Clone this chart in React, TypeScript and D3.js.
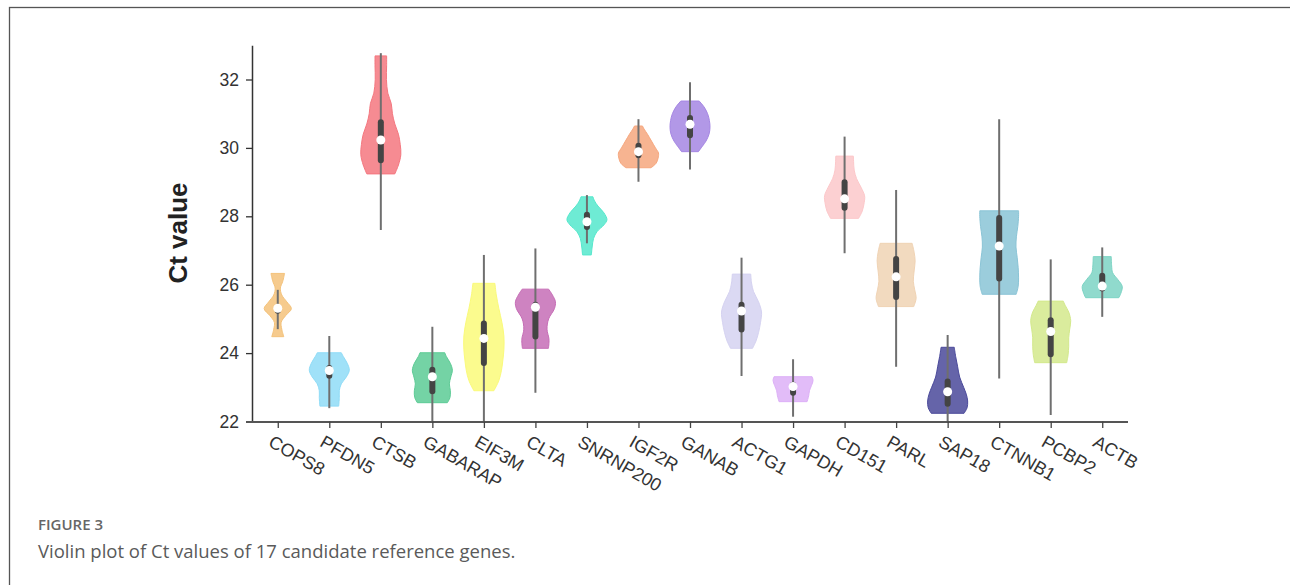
import React, { useEffect, useRef } from 'react';
import * as d3 from 'd3';

const genes = ['COPS8', 'PFDN5', 'CTSB', 'GABARAP', 'EIF3M', 'CLTA', 'SNRNP200', 'IGF2R', 'GANAB',
  'ACTG1', 'GAPDH', 'CD151', 'PARL', 'SAP18', 'CTNNB1', 'PCBP2', 'ACTB'];

const colors = ['#f4c27a', '#8fdcf7', '#f4777f', '#5ccb95', '#fafa7a', '#c66db6', '#55e8cc', '#f6a77e',
  '#a586e3', '#d5d2f1', '#ddb0f7', '#fcc8ca', '#f0d3b4', '#4a499a', '#8ac4d6', '#d3e98c', '#7cd4c4'];

// whisker ends, quartiles, medians
const whiskerLow = [24.7, 22.39, 27.6, 22.0, 22.0, 22.84, 27.21, 29.01, 29.37, 23.33, 22.14, 26.92, 23.6, 22.0, 23.26, 22.19, 25.06];
const whiskerHigh = [25.85, 24.5, 32.77, 24.77, 26.87, 27.06, 28.62, 30.84, 31.92, 26.79, 23.82, 30.33, 28.77, 24.53, 30.84, 26.74, 27.09];
const q1 = [25.15, 23.25, 29.55, 22.8, 23.62, 24.4, 27.6, 29.7, 30.28, 24.6, 22.75, 28.16, 25.55, 22.43, 26.09, 23.88, 25.8];
const q3 = [25.4, 23.65, 30.84, 23.6, 24.95, 25.5, 28.13, 30.15, 30.96, 25.5, 23.16, 29.08, 26.84, 23.26, 28.04, 25.05, 26.35];
const medians = [25.31, 23.49, 30.23, 23.31, 24.43, 25.34, 27.84, 29.89, 30.69, 25.23, 23.02, 28.51, 26.23, 22.87, 27.13, 24.63, 25.96];

// violin outlines: [Ct, relative density] from bottom to top of each violin
const profiles: number[][][] = [
  [[24.48, 0.3], [24.7, 0.2], [24.9, 0.17], [25.1, 0.4], [25.3, 0.68], [25.5, 0.45], [25.7, 0.2], [25.9, 0.13], [26.1, 0.25], [26.33, 0.34]],
  [[22.45, 0.47], [22.7, 0.5], [22.9, 0.5], [23.1, 0.6], [23.3, 0.85], [23.5, 1.0], [23.7, 0.9], [23.9, 0.7], [24.01, 0.6]],
  [[29.24, 0.7], [29.5, 0.88], [29.8, 1.0], [30.1, 0.97], [30.4, 0.88], [30.7, 0.7], [31.0, 0.58], [31.3, 0.52], [31.6, 0.35], [32.0, 0.28], [32.4, 0.29], [32.69, 0.29]],
  [[22.55, 0.75], [22.7, 0.88], [22.9, 0.9], [23.1, 0.85], [23.3, 0.92], [23.5, 1.0], [23.7, 0.9], [23.9, 0.7], [24.01, 0.62]],
  [[22.9, 0.5], [23.2, 0.75], [23.5, 0.88], [23.8, 0.95], [24.1, 1.0], [24.5, 1.0], [24.9, 0.9], [25.3, 0.75], [25.7, 0.62], [26.04, 0.55]],
  [[24.14, 0.65], [24.4, 0.68], [24.7, 0.58], [25.0, 0.66], [25.3, 0.95], [25.5, 1.0], [25.7, 0.85], [25.87, 0.66]],
  [[26.87, 0.22], [27.1, 0.26], [27.35, 0.33], [27.55, 0.5], [27.75, 0.85], [27.9, 1.0], [28.1, 0.85], [28.3, 0.55], [28.45, 0.38], [28.57, 0.3]],
  [[29.42, 0.63], [29.55, 0.88], [29.7, 0.98], [29.85, 1.0], [30.0, 0.85], [30.2, 0.65], [30.4, 0.45], [30.55, 0.28], [30.64, 0.2]],
  [[29.89, 0.42], [30.05, 0.62], [30.2, 0.8], [30.4, 0.95], [30.6, 1.0], [30.8, 0.97], [31.0, 0.88], [31.2, 0.7], [31.37, 0.46]],
  [[24.14, 0.55], [24.35, 0.72], [24.6, 0.85], [24.9, 0.95], [25.2, 1.0], [25.5, 0.85], [25.8, 0.6], [26.05, 0.5], [26.31, 0.46]],
  [[22.58, 0.7], [22.75, 0.78], [22.9, 0.82], [23.05, 0.92], [23.2, 1.0], [23.31, 0.95]],
  [[27.94, 0.7], [28.15, 0.88], [28.4, 0.98], [28.6, 1.0], [28.85, 0.82], [29.1, 0.6], [29.35, 0.48], [29.6, 0.45], [29.76, 0.44]],
  [[25.36, 0.88], [25.6, 1.0], [25.85, 0.93], [26.1, 0.86], [26.4, 0.9], [26.7, 0.95], [26.95, 0.9], [27.21, 0.8]],
  [[22.24, 0.82], [22.4, 0.97], [22.6, 1.0], [22.8, 0.93], [23.0, 0.8], [23.3, 0.6], [23.6, 0.5], [23.9, 0.4], [24.17, 0.33]],
  [[25.72, 0.85], [25.95, 0.95], [26.2, 0.97], [26.5, 0.95], [26.8, 0.9], [27.1, 0.84], [27.4, 0.86], [27.7, 0.93], [28.0, 0.97], [28.16, 0.97]],
  [[23.72, 0.8], [23.95, 0.87], [24.2, 0.9], [24.45, 0.9], [24.7, 0.95], [24.95, 1.0], [25.2, 0.9], [25.4, 0.72], [25.52, 0.63]],
  [[25.62, 0.83], [25.75, 0.93], [25.95, 1.0], [26.15, 0.78], [26.35, 0.52], [26.55, 0.47], [26.82, 0.45]],
];

const yTicks = [22, 24, 26, 28, 30, 32];

export default function App() {
  const ref = useRef<SVGSVGElement>(null);

  useEffect(() => {
    const svg = d3.select(ref.current);
    svg.selectAll('*').remove();

    const x = d3.scalePoint<string>().domain(genes).range([252, 1128]).padding(0.5);
    const y = d3.scaleLinear().domain([22, 33]).range([421.5, 45.3]);
    const w = d3.scaleLinear().domain([0, 1]).range([0, 20]);

    svg.append('rect')
      .attr('x', 9.5).attr('y', 7.5)
      .attr('width', 1300).attr('height', 600)
      .attr('fill', 'none').attr('stroke', '#555').attr('stroke-width', 1.3);

    const area = d3.area<number[]>()
      .y(d => y(d[0]))
      .x0(d => -w(d[1]))
      .x1(d => w(d[1]))
      .curve(d3.curveCatmullRom);

    const g = svg.selectAll('.violin')
      .data(genes)
      .join('g')
      .attr('class', 'violin')
      .attr('transform', d => `translate(${x(d)},0)`);

    g.append('path')
      .attr('d', (d, i) => area(profiles[i]))
      .attr('fill', (d, i) => colors[i])
      .attr('fill-opacity', 0.85)
      .attr('stroke', (d, i) => colors[i])
      .attr('stroke-width', 1);

    g.append('line')
      .attr('y1', (d, i) => y(whiskerLow[i]))
      .attr('y2', (d, i) => y(whiskerHigh[i]))
      .attr('stroke', '#6f6f6f')
      .attr('stroke-width', 2);

    g.append('rect')
      .attr('x', -3)
      .attr('width', 6)
      .attr('y', (d, i) => y(q3[i]))
      .attr('height', (d, i) => y(q1[i]) - y(q3[i]))
      .attr('rx', 3)
      .attr('fill', '#444');

    g.append('circle')
      .attr('cy', (d, i) => y(medians[i]))
      .attr('r', 4.5)
      .attr('fill', '#fff');

    const yAxis = svg.append('g')
      .attr('transform', 'translate(252,0)')
      .call(d3.axisLeft(y).tickValues(yTicks).tickSize(6).tickPadding(7).tickSizeOuter(0));
    yAxis.select('.domain').attr('stroke', '#333').attr('stroke-width', 1.5);
    yAxis.selectAll('.tick line').attr('stroke', '#333').attr('stroke-width', 1.3);
    yAxis.selectAll('.tick text')
      .attr('font-family', 'Liberation Sans, Arial, sans-serif')
      .attr('font-size', 17.5).attr('fill', '#333');

    const xAxis = svg.append('g')
      .attr('transform', 'translate(0,421.5)')
      .call(d3.axisBottom(x).tickSize(6.5).tickSizeOuter(0));
    xAxis.select('.domain').attr('stroke', '#555').attr('stroke-width', 2)
      .attr('d', 'M246,0.5H1128');
    xAxis.selectAll('.tick line').attr('stroke', '#444').attr('stroke-width', 1.3);
    xAxis.selectAll('.tick text')
      .attr('font-family', 'Liberation Sans, Arial, sans-serif')
      .attr('font-size', 18).attr('fill', '#333')
      .attr('text-anchor', 'start')
      .attr('dy', null)
      .attr('y', 0)
      .attr('transform', 'translate(-11,24) rotate(30)');

    svg.append('text')
      .attr('transform', 'translate(187,233) rotate(-90)')
      .attr('text-anchor', 'middle')
      .attr('font-family', 'Liberation Sans, Arial, sans-serif')
      .attr('font-weight', 'bold')
      .attr('font-size', 26)
      .attr('fill', '#222')
      .text('Ct value');

    svg.append('text')
      .attr('x', 38).attr('y', 530)
      .attr('font-family', 'Open Sans, sans-serif')
      .attr('font-weight', 600)
      .attr('font-size', 15)
      .attr('fill', '#666')
      .text('FIGURE 3');

    svg.append('text')
      .attr('x', 38).attr('y', 558)
      .attr('font-family', 'Open Sans, sans-serif')
      .attr('font-size', 18.5)
      .attr('fill', '#5a5a5a')
      .text('Violin plot of Ct values of 17 candidate reference genes.');
  }, []);

  return (
    <svg ref={ref} width={1290} height={585}
      style={{ position: 'absolute', left: 0, top: 0, background: '#fff' }} />
  );
}
